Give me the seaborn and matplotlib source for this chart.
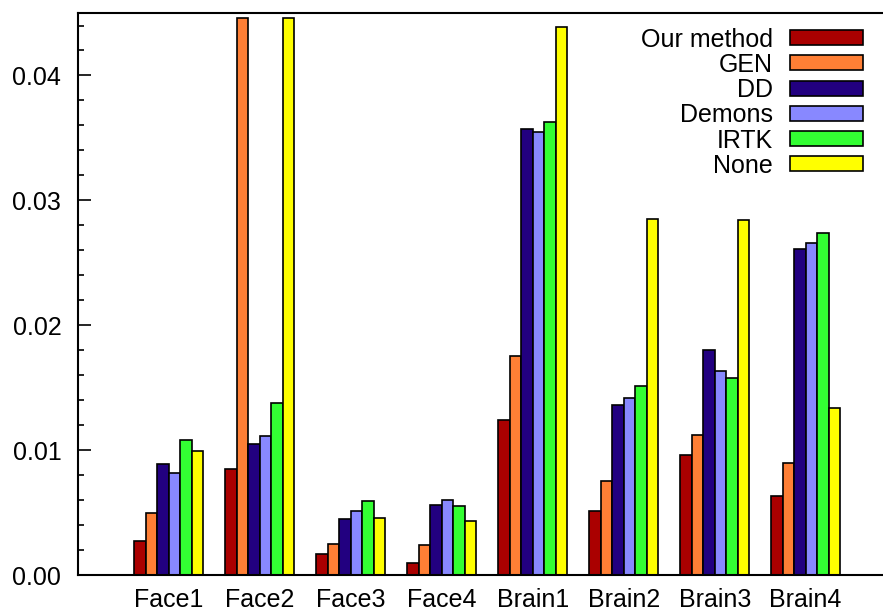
import numpy as np
import pandas as pd
import seaborn as sns
import matplotlib
matplotlib.use("Agg")
import matplotlib.pyplot as plt
from matplotlib.ticker import MultipleLocator, FormatStrFormatter

datasets = ['Face1', 'Face2', 'Face3', 'Face4', 'Brain1', 'Brain2', 'Brain3', 'Brain4']
methods = ['Our method', 'GEN', 'DD', 'Demons', 'IRTK', 'None']
colors = ['#AA0000', '#FF7F35', '#220080', '#8888FF', '#33FF33', '#FFFF00']

our_method = [0.0027, 0.0085, 0.0017, 0.0010, 0.0124, 0.0051, 0.0096, 0.0063]
gen        = [0.0050, 0.0446, 0.0025, 0.0024, 0.0175, 0.0075, 0.0112, 0.0090]
dd         = [0.0089, 0.0105, 0.0045, 0.0056, 0.0357, 0.0136, 0.0180, 0.0261]
demons     = [0.0082, 0.0111, 0.0051, 0.0060, 0.0355, 0.0142, 0.0163, 0.0266]
irtk       = [0.0108, 0.0138, 0.0059, 0.0055, 0.0363, 0.0151, 0.0158, 0.0274]
none       = [0.0099, 0.0446, 0.0046, 0.0043, 0.0439, 0.0285, 0.0284, 0.0134]

values = [our_method, gen, dd, demons, irtk, none]
df = pd.DataFrame({
    'dataset': np.tile(datasets, len(methods)),
    'method': np.repeat(methods, len(datasets)),
    'error': np.concatenate(values),
})

sns.set_style('ticks')
plt.rcParams['font.family'] = ['Liberation Sans', 'DejaVu Sans']
plt.rcParams['text.color'] = 'black'
plt.rcParams['xtick.color'] = 'black'
plt.rcParams['ytick.color'] = 'black'

fig = plt.figure(figsize=(8.83, 6.14), dpi=100)
ax = fig.add_axes([0.0883, 0.0635, 0.9117, 0.9153])

sns.barplot(data=df, x='dataset', y='error', hue='method', palette=colors,
            width=0.76, gap=0, saturation=1, edgecolor='black', linewidth=1.2,
            errorbar=None, ax=ax)

ax.set_xlim(-1, 7.85)
ax.set_ylim(0, 0.045)
ax.yaxis.set_major_locator(MultipleLocator(0.01))
ax.yaxis.set_minor_locator(MultipleLocator(0.002))
ax.yaxis.set_major_formatter(FormatStrFormatter('%.2f'))
ax.tick_params(axis='y', which='major', direction='in', length=9, width=1.2,
               labelsize=18, pad=12, colors='black')
ax.tick_params(axis='y', which='minor', direction='in', length=4.5, width=1.2,
               colors='black')
ax.tick_params(axis='x', length=0, labelsize=18, pad=9, colors='black')
ax.set_xlabel('')
ax.set_ylabel('')

for side in ['left', 'top', 'bottom']:
    ax.spines[side].set_linewidth(1.5)
    ax.spines[side].set_color('black')
ax.spines['right'].set_visible(False)

leg = ax.legend(loc='upper right', bbox_to_anchor=(0.987, 0.992), frameon=False,
                markerfirst=False, fontsize=18, handlelength=2.9, handleheight=0.55,
                labelspacing=0.05, handletextpad=0.7, borderaxespad=0)
for t in leg.get_texts():
    t.set_color('black')

fig.savefig('out.png', dpi=100)
